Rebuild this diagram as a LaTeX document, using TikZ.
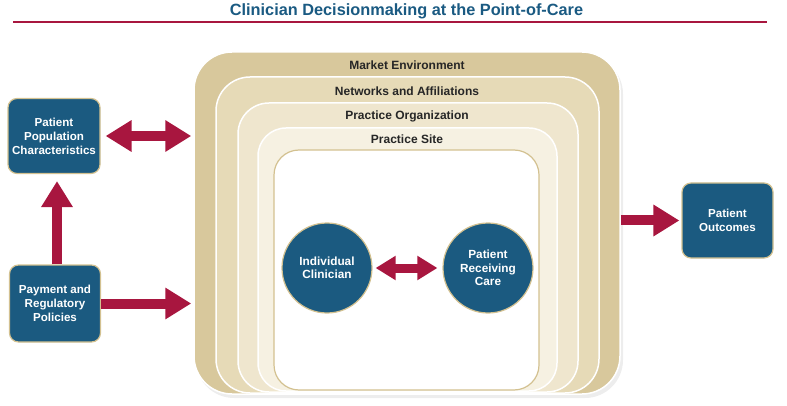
\documentclass[tikz,border=0pt]{standalone}
\usepackage{fontspec}
\setmainfont{Liberation Sans}
\usetikzlibrary{arrows.meta}
\definecolor{navy}{HTML}{1B5A80}
\definecolor{crim}{HTML}{A8163F}
\definecolor{tanA}{HTML}{D8C89C}
\definecolor{tanB}{HTML}{E6DAB7}
\definecolor{tanC}{HTML}{EFE6CE}
\definecolor{tanD}{HTML}{F6F1E2}
\definecolor{tanE}{HTML}{D3C190}
\definecolor{titleblue}{HTML}{1A5A82}
\begin{document}
\begin{tikzpicture}[x=1pt,y=-1pt,
  bluebox/.style={draw=tanE, line width=1.2pt, fill=navy, rounded corners=9pt, text=white,
    font=\fontsize{11.6}{14}\selectfont\bfseries, align=center, inner sep=0pt},
  bluecirc/.style={circle, draw=tanE, line width=1.2pt, fill=navy, text=white,
    font=\fontsize{11.8}{13.5}\selectfont\bfseries, align=center, inner sep=0pt, minimum size=90pt},
  layer/.style={draw=white, line width=1.5pt, inner sep=0pt},
  layerlabel/.style={font=\fontsize{12}{14}\selectfont\bfseries, text=black!85},
  bigarrow/.style={crim, line width=10pt, -{Triangle[length=26pt,width=30pt]}},
  dblarrow/.style={crim, line width=10pt, {Triangle[length=26pt,width=30pt]}-{Triangle[length=26pt,width=30pt]}},
  smallarrow/.style={crim, line width=9pt, {Triangle[length=20pt,width=23pt]}-{Triangle[length=20pt,width=23pt]}}
]
\useasboundingbox (0,0) rectangle (787,406);
% title
\node[font=\fontsize{16.3}{18}\selectfont\bfseries, text=titleblue] (title) at (406.5,11) {Clinician Decisionmaking at the Point-of-Care};
\coordinate (ruleL) at (13,22);
\coordinate (ruleR) at (767,22);
\draw[crim, line width=1.3pt] (ruleL) -- (ruleR);

% shadow of nested frame
\fill[black, opacity=0.07, rounded corners=38pt] (196,56) rectangle (623,398);
% nested layers
\node[layer, fill=tanA, rounded corners=38pt, minimum width=426pt, minimum height=342pt] (market) at (407,223) {};
\node[layer, fill=tanB, rounded corners=34pt, minimum width=383pt, minimum height=316pt] (networks) at (407.5,235) {};
\node[layer, fill=tanC, rounded corners=31pt, minimum width=340pt, minimum height=289pt] (org) at (408,247.5) {};
\node[layer, fill=tanD, rounded corners=28pt, minimum width=299pt, minimum height=263pt] (site) at (407.5,259.5) {};
\node[draw=tanE, line width=1.2pt, fill=white, rounded corners=25pt, inner sep=0pt, minimum width=265pt, minimum height=240pt] (inner) at (406.5,270) {};

\node[layerlabel] (lmarket) at (407,65) {Market Environment};
\node[layerlabel] (lnet) at (407,91) {Networks and Affiliations};
\node[layerlabel] (lorg) at (407,116.5) {Practice Organization};
\node[layerlabel] (lsite) at (407,139) {Practice Site};

% circles
\node[bluecirc] (ic) at (327,268) {Individual\\Clinician};
\node[bluecirc] (prc) at (488,268) {Patient\\Receiving\\Care};
\draw[smallarrow, shorten <=3pt, shorten >=5pt] (ic) -- (prc);

% side boxes
\node[bluebox, minimum width=92pt, minimum height=75pt] (ppc) at (54,136) {Patient\\Population\\Characteristics};
\node[bluebox, minimum width=91pt, minimum height=77pt] (pay) at (55,303.5) {Payment and\\Regulatory\\Policies};
\node[bluebox, minimum width=91pt, minimum height=75pt] (out) at (727.5,220.5) {Patient\\Outcomes};

% arrows
\draw[dblarrow, shorten <=5pt, shorten >=2pt] (ppc.east) -- (ppc.east -| market.west);
\draw[bigarrow, shorten >=2pt] (pay.east) -- (pay.east -| market.west);
\draw[bigarrow, shorten >=7pt] ([xshift=2pt]pay.north) -- ([xshift=2pt]pay.north |- ppc.south);
\draw[bigarrow, shorten >=2pt] (market.east |- out.west) -- (out.west);
\end{tikzpicture}
\end{document}
